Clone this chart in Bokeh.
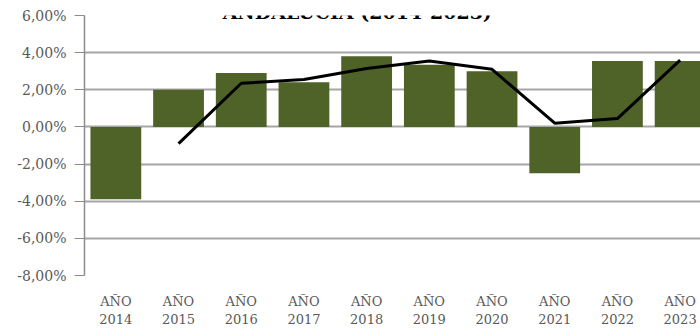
import math
from bokeh.plotting import figure
from bokeh.models import Range1d, FixedTicker, Label, ColumnDataSource
from bokeh.embed import file_html
from bokeh.resources import INLINE

# ---- data ----
years = ["2014", "2015", "2016", "2017", "2018", "2019", "2020", "2021", "2022", "2023"]
bar_values = [-3.9, 2.0, 2.9, 2.4, 3.8, 3.35, 3.0, -2.5, 3.55, 3.55]
line_values = [float("nan"), -0.9, 2.35, 2.55, 3.15, 3.55, 3.1, 0.2, 0.45, 3.6]
y_ticks = [-8, -6, -4, -2, 0, 2, 4, 6]
y_tick_labels = ["-8,00%", "-6,00%", "-4,00%", "-2,00%", "0,00%", "2,00%", "4,00%", "6,00%"]
x_tick_labels = ["AÑO\n" + y for y in years]
title_text = "ANDALUCÍA (2014-2023)"

xs = list(range(len(years)))
src = ColumnDataSource(dict(x=xs, bar=bar_values, line=line_values))

p = figure(width=700, height=330, output_backend="svg", toolbar_location=None,
           x_range=Range1d(-0.5, 9.325), y_range=Range1d(-8, 6),
           min_border_left=84, min_border_right=0, min_border_top=15, min_border_bottom=55)
p.styles = {"position": "absolute", "top": "0px", "left": "0px"}
p.outline_line_color = None
p.background_fill_color = "white"
p.border_fill_color = "white"

p.vbar(x="x", top="bar", bottom=0, width=0.81, source=src, fill_color="#4f6228", line_color=None)
p.line(x="x", y="line", source=src, line_color="#000000", line_width=3)

# axes
p.xgrid.grid_line_color = None
p.ygrid.grid_line_color = "#a6a6a6"
p.ygrid.grid_line_width = 2
p.yaxis.ticker = FixedTicker(ticks=y_ticks)
p.yaxis.major_label_overrides = {t: l for t, l in zip(y_ticks, y_tick_labels)}
p.yaxis.axis_line_color = "#8c8c8c"
p.yaxis.axis_line_width = 1.5
p.yaxis.major_tick_line_color = "#8c8c8c"
p.yaxis.major_tick_out = 10
p.yaxis.major_tick_in = 0
p.yaxis.minor_tick_line_color = None
p.yaxis.major_label_text_font = "DejaVu Serif"
p.yaxis.major_label_text_font_size = "14px"
p.yaxis.major_label_text_color = "#595959"
p.yaxis.major_label_standoff = 8

p.xaxis.ticker = FixedTicker(ticks=xs)
p.xaxis.major_label_overrides = {i: l for i, l in zip(xs, x_tick_labels)}
p.xaxis.axis_line_color = None
p.xaxis.major_tick_line_color = None
p.xaxis.minor_tick_line_color = None
p.xaxis.major_label_text_font = "DejaVu Serif"
p.xaxis.major_label_text_font_size = "13px"
p.xaxis.major_label_text_color = "#595959"
p.xaxis.major_label_standoff = 12

p.add_layout(Label(x=3.85, y=6.2, text=title_text, text_align="center",
                   text_baseline="alphabetic", text_font="DejaVu Serif",
                   text_font_style="bold", text_font_size="19px", text_color="#000000"))

open("out.html", "w").write(file_html(p, INLINE))
